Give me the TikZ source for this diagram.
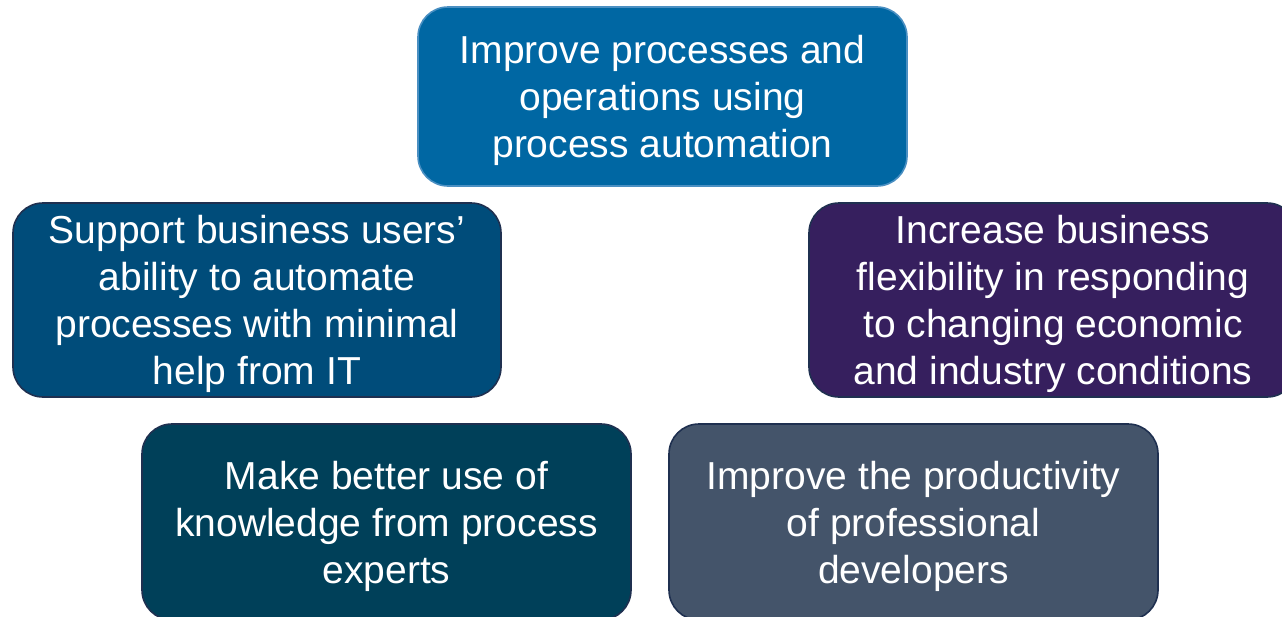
\documentclass[tikz,border=0pt]{standalone}
\usepackage{fontspec}
\setmainfont{Liberation Sans}
\definecolor{cTop}{HTML}{0067A3}
\definecolor{cTopB}{HTML}{4A8FC2}
\definecolor{cLeft}{HTML}{004C7A}
\definecolor{cRight}{HTML}{361F5E}
\definecolor{cBL}{HTML}{004059}
\definecolor{cBR}{HTML}{44546A}
\definecolor{cBorder}{HTML}{1F3050}
\begin{document}
\begin{tikzpicture}[x=1pt,y=-1pt,
  goalbox/.style={rectangle, rounded corners=30pt, line width=1.6pt, draw=cBorder, inner sep=0pt},
  goaltext/.style={text=white, align=center, inner sep=0pt,
    font=\fontsize{39}{47}\selectfont}]
\useasboundingbox (0,0) rectangle (1282,616);
\clip (0,0) rectangle (1282,616);
\node[goalbox, fill=cTop, draw=cTopB, minimum width=489pt, minimum height=179pt] (top) at (662.5,96.5) {};
\node[goaltext] (topT) at ([yshift=-4pt]top.center)
  {Improve processes and\\operations using\\process automation};
\node[goalbox, fill=cLeft, minimum width=488pt, minimum height=194pt] (left) at (257,300) {};
\node[goaltext] (leftT) at ([yshift=-4pt]left.center)
  {Support business users’\\ability to automate\\processes with minimal\\help from IT};
\node[goalbox, fill=cRight, minimum width=488pt, minimum height=194pt] (right) at (1053,300) {};
\node[goaltext] (rightT) at ([yshift=-4pt]right.center)
  {Increase business\\flexibility in responding\\to changing economic\\and industry conditions};
\node[goalbox, fill=cBL, minimum width=489pt, minimum height=196pt] (bl) at (386.5,522) {};
\node[goaltext] (blT) at ([yshift=-4pt]bl.center)
  {Make better use of\\knowledge from process\\experts};
\node[goalbox, fill=cBR, minimum width=489pt, minimum height=196pt] (br) at (913.5,522) {};
\node[goaltext] (brT) at ([yshift=-4pt]br.center)
  {Improve the productivity\\of professional\\developers};
\end{tikzpicture}
\end{document}
